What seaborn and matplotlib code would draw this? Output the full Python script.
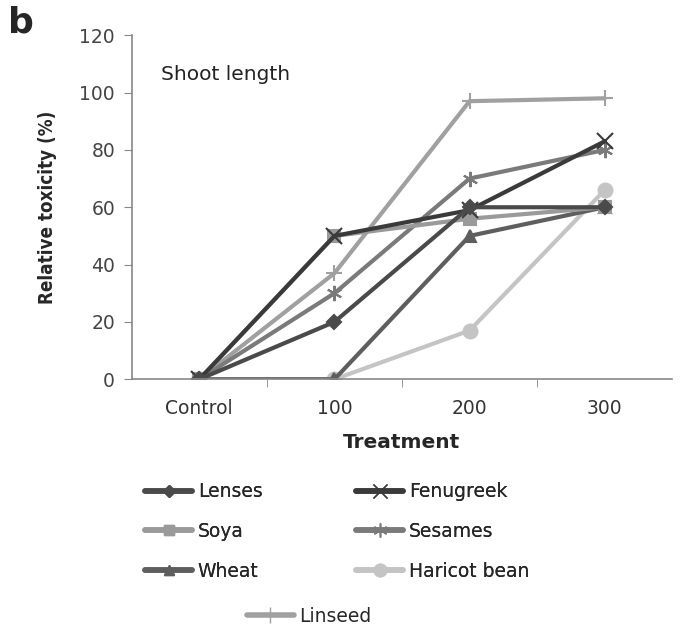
import numpy as np
import pandas as pd
import seaborn as sns
import matplotlib.pyplot as plt
from matplotlib.lines import Line2D

# Data (relative toxicity %, shoot length)
treatments = ['Control', '100', '200', '300']
lenses = [0, 20, 60, 60]
fenugreek = [0, 50, 59, 83]
soya = [0, 50, 56, 60]
sesames = [0, 30, 70, 80]
wheat = [0, 0, 50, 60]
haricot = [0, 0, 17, 66]
linseed = [0, 37, 97, 98]

species = ['Lenses', 'Fenugreek', 'Soya', 'Sesames', 'Wheat', 'Haricot bean', 'Linseed']
values = [lenses, fenugreek, soya, sesames, wheat, haricot, linseed]

colors = {'Lenses': '#4a4a4a', 'Fenugreek': '#3a3a3a', 'Soya': '#9a9a9a',
          'Sesames': '#7a7a7a', 'Wheat': '#5e5e5e', 'Haricot bean': '#c4c4c4',
          'Linseed': '#a0a0a0'}
markers = {'Lenses': 'D', 'Fenugreek': 'x', 'Soya': 's', 'Sesames': (6, 2, 0),
           'Wheat': '^', 'Haricot bean': 'o', 'Linseed': '+'}
msizes = {'Lenses': 7, 'Fenugreek': 11, 'Soya': 8, 'Sesames': 11,
          'Wheat': 8, 'Haricot bean': 10, 'Linseed': 12}

df = pd.DataFrame({
    'Treatment': treatments * len(species),
    'Value': np.concatenate(values),
    'Species': np.repeat(species, len(treatments)),
})

sns.set_style('white')
plt.rcParams['font.family'] = ['DejaVu Sans']

fig = plt.figure(figsize=(6.86, 6.29), dpi=100)
ax = fig.add_axes([0.192, 0.397, 0.788, 0.547])

# plot in reverse so darker series sit on top like the original
for sp in species[::-1]:
    sub = df[df['Species'] == sp]
    sns.lineplot(data=sub, x='Treatment', y='Value', ax=ax, color=colors[sp],
                 marker=markers[sp], markersize=msizes[sp], linewidth=3,
                 markeredgecolor=colors[sp], markeredgewidth=1.5, sort=False)

ax.set_xlim(-0.5, 3.5)
ax.set_ylim(0, 120)
ax.set_yticks(range(0, 121, 20))
ax.set_xticks([0.5, 1.5, 2.5], minor=True)
ax.tick_params(axis='x', which='major', length=0, labelsize=13.5, labelcolor='#333333', pad=14)
ax.tick_params(axis='x', which='minor', length=6, color='#888888', direction='out', bottom=True)
ax.tick_params(axis='y', length=6, color='#888888', direction='out', left=True,
               labelsize=13.5, labelcolor='#444444', pad=6)
sns.despine(ax=ax)
for side in ['left', 'bottom']:
    ax.spines[side].set_color('#888888')
    ax.spines[side].set_linewidth(1.2)

ax.set_xlabel('Treatment', fontsize=14.5, fontweight='bold', labelpad=11)
ax.set_ylabel('Relative toxicity (%)', fontsize=13.5, fontweight='bold', labelpad=16,
              fontstretch='condensed')
ax.text(0.055, 0.87, 'Shoot length', transform=ax.transAxes, fontsize=14.5, color='#222222')
fig.text(0.012, 0.948, 'b', fontsize=26, fontweight='bold')

def handle(sp):
    return Line2D([], [], color=colors[sp], marker=markers[sp], markersize=msizes[sp] - 1,
                  markeredgecolor=colors[sp], linewidth=4)

order = ['Lenses', 'Soya', 'Wheat', 'Fenugreek', 'Sesames', 'Haricot bean']
leg1 = fig.legend([handle(s) for s in order], order, ncol=2, frameon=False,
                  loc='upper left', bbox_to_anchor=(0.187, 0.26), fontsize=13.5,
                  handlelength=2.5, handletextpad=0.3, columnspacing=5.0,
                  labelspacing=1.1)
fig.add_artist(leg1)
fig.legend([handle('Linseed')], ['Linseed'], frameon=False, loc='upper left',
           bbox_to_anchor=(0.335, 0.062), fontsize=13.5, handlelength=2.5,
           handletextpad=0.3)

fig.savefig('out.png', dpi=100)
